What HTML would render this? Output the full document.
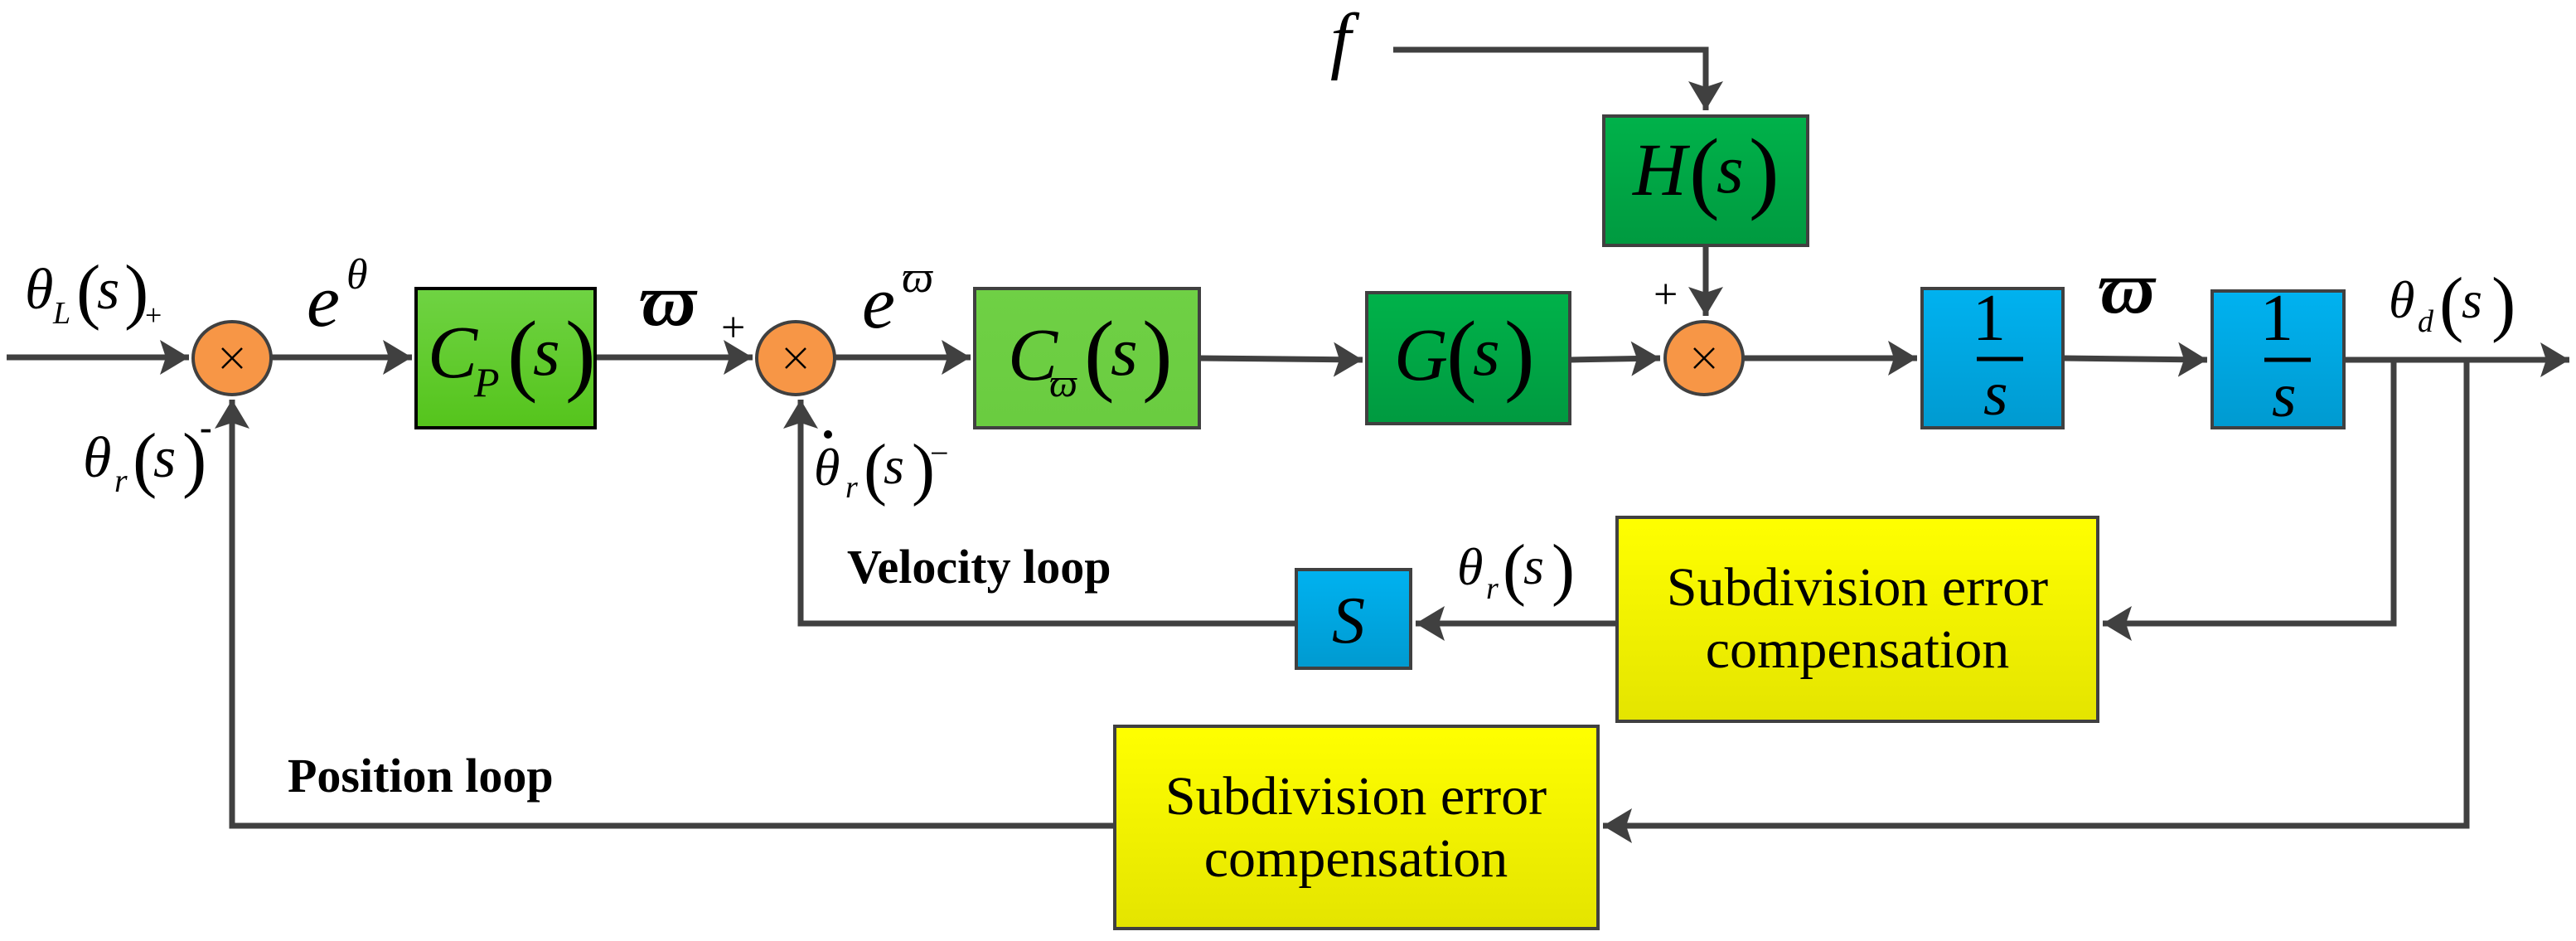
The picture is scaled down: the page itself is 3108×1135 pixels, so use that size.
<!DOCTYPE html>
<html><head><meta charset="utf-8"><style>
html,body{margin:0;padding:0;background:#fff;}
svg{display:block;}
</style></head><body>
<svg width="3108" height="1135" viewBox="0 0 3108 1135" xmlns="http://www.w3.org/2000/svg" font-family="Liberation Serif, DejaVu Serif, serif">
<defs>
<linearGradient id="gp" x1="0" y1="0" x2="0" y2="1"><stop offset="0" stop-color="#6fd343"/><stop offset="1" stop-color="#55c41c"/></linearGradient>
<linearGradient id="gw" x1="0" y1="0" x2="0" y2="1"><stop offset="0" stop-color="#6fd045"/><stop offset="1" stop-color="#6acc40"/></linearGradient>
<linearGradient id="gg" x1="0" y1="0" x2="0" y2="1"><stop offset="0" stop-color="#00b24a"/><stop offset="1" stop-color="#009a40"/></linearGradient>
<linearGradient id="gb" x1="0" y1="0" x2="0" y2="1"><stop offset="0" stop-color="#00b2f0"/><stop offset="1" stop-color="#009ad0"/></linearGradient>
<linearGradient id="gy" x1="0" y1="0" x2="0" y2="1"><stop offset="0" stop-color="#ffff00"/><stop offset="1" stop-color="#e4e400"/></linearGradient>
<marker id="ar" markerWidth="6" markerHeight="6" refX="5" refY="3" orient="auto" markerUnits="strokeWidth"><path d="M0,0 L5,3 L0,6 L1,3 Z" fill="#404040"/></marker>
</defs>
<g stroke="#404040" stroke-width="7" fill="none">
<line x1="8" y1="431" x2="228" y2="431" marker-end="url(#ar)"/>
<line x1="327" y1="431" x2="497" y2="431" marker-end="url(#ar)"/>
<line x1="718" y1="431" x2="908" y2="431" marker-end="url(#ar)"/>
<line x1="1007" y1="431" x2="1171" y2="431" marker-end="url(#ar)"/>
<line x1="1447" y1="432" x2="1644" y2="434" marker-end="url(#ar)"/>
<line x1="1894" y1="434" x2="2003" y2="432" marker-end="url(#ar)"/>
<line x1="2103" y1="432" x2="2313" y2="432" marker-end="url(#ar)"/>
<line x1="2489" y1="432" x2="2663" y2="434" marker-end="url(#ar)"/>
<line x1="2828" y1="434" x2="3100" y2="434" marker-end="url(#ar)"/>
<polyline points="1681,60 2058,60 2058,133" marker-end="url(#ar)"/>
<line x1="2058" y1="296" x2="2058" y2="381" marker-end="url(#ar)"/>
<polyline points="2888,434 2888,752 2537,752" marker-end="url(#ar)"/>
<line x1="1951" y1="752" x2="1708" y2="752" marker-end="url(#ar)"/>
<polyline points="1564,752 966,752 966,482" marker-end="url(#ar)"/>
<polyline points="2976,434 2976,996 1934,996" marker-end="url(#ar)"/>
<polyline points="1345,996 280,996 280,482" marker-end="url(#ar)"/>
</g>
<g stroke="#404040" stroke-width="4">
<ellipse cx="280" cy="432" rx="47" ry="44" fill="#f79646"/>
<ellipse cx="960" cy="432" rx="47" ry="44" fill="#f79646"/>
<ellipse cx="2056" cy="432" rx="47" ry="44" fill="#f79646"/>
<rect x="502" y="348" width="216" height="168" fill="url(#gp)" stroke="#000"/>
<rect x="1176" y="348" width="271" height="168" fill="url(#gw)"/>
<rect x="1649" y="353" width="245" height="158" fill="url(#gg)"/>
<rect x="1935" y="140" width="246" height="156" fill="url(#gg)"/>
<rect x="2319" y="348" width="170" height="168" fill="url(#gb)"/>
<rect x="2669" y="351" width="159" height="165" fill="url(#gb)"/>
<rect x="1564" y="687" width="138" height="119" fill="url(#gb)"/>
<rect x="1951" y="624" width="580" height="246" fill="url(#gy)"/>
<rect x="1345" y="876" width="583" height="244" fill="url(#gy)"/>
</g>
<g stroke="#000" stroke-width="2.5">
<line x1="268" y1="420" x2="292" y2="444"/><line x1="292" y1="420" x2="268" y2="444"/>
<line x1="948" y1="420" x2="972" y2="444"/><line x1="972" y1="420" x2="948" y2="444"/>
<line x1="2044" y1="420" x2="2068" y2="444"/><line x1="2068" y1="420" x2="2044" y2="444"/>
</g>
<g fill="#000" font-style="italic">
<text x="30" y="372" font-size="70">θ</text>
<text x="64" y="390" font-size="38">L</text>
<text x="117" y="372" font-size="70">s</text>
<text x="370" y="393" font-size="90">e</text>
<text x="418" y="348" font-size="52">θ</text>
<text x="516" y="455" font-size="90">C</text><text x="572" y="478" font-size="50">P</text>
<text x="643" y="452" font-size="84">s</text>
<text x="772" y="392" font-size="90" font-weight="bold">ϖ</text>
<text x="1040" y="395" font-size="90">e</text>
<text x="1088" y="352" font-size="54">ϖ</text>
<text x="1216" y="458" font-size="90">C</text><text x="1266" y="478" font-size="48">ϖ</text>
<text x="1340" y="452" font-size="84">s</text>
<text x="1682" y="458" font-size="90">G</text>
<text x="1777" y="452" font-size="84">s</text>
<text x="1970" y="235" font-size="90">H</text>
<text x="2071" y="232" font-size="84">s</text>
<text x="1605" y="78" font-size="90">f</text>
<text x="2393" y="500" font-size="76">s</text>
<text x="2741" y="502" font-size="76">s</text>
<text x="2532" y="377" font-size="90" font-weight="bold">ϖ</text>
<text x="2882" y="383" font-size="64">θ</text>
<text x="2917" y="400" font-size="38">d</text>
<text x="2970" y="383" font-size="64">s</text>
<text x="100" y="575" font-size="70">θ</text>
<text x="138" y="593" font-size="40">r</text>
<text x="185" y="575" font-size="70">s</text>
<text x="982" y="585" font-size="64">θ</text>
<text x="1020" y="600" font-size="38">r</text>
<text x="1066" y="583" font-size="64">s</text>
<text x="1758" y="705" font-size="64">θ</text>
<text x="1793" y="722" font-size="38">r</text>
<text x="1838" y="704" font-size="64">s</text>
<text x="1607" y="775" font-size="80">S</text>
</g>
<g fill="#000">
<text x="92" y="380" font-size="88">(</text><text x="150" y="380" font-size="88">)</text>
<text x="175" y="392" font-size="36">+</text>
<text x="612" y="463" font-size="110">(</text><text x="682" y="463" font-size="110">)</text>
<text x="870" y="412" font-size="52">+</text>
<text x="1308" y="463" font-size="110">(</text><text x="1378" y="463" font-size="110">)</text>
<text x="1745" y="463" font-size="110">(</text><text x="1815" y="463" font-size="110">)</text>
<text x="2038" y="243" font-size="110">(</text><text x="2110" y="243" font-size="110">)</text>
<text x="1995" y="372" font-size="52">+</text>
<text x="2380" y="410" font-size="80">1</text>
<text x="2727" y="410" font-size="80">1</text>
<text x="2943" y="395" font-size="88">(</text><text x="3006" y="395" font-size="88">)</text>
<text x="160" y="583" font-size="88">(</text><text x="220" y="583" font-size="88">)</text>
<text x="241" y="530" font-size="44" font-weight="bold">-</text>
<text x="1042" y="593" font-size="84">(</text><text x="1100" y="593" font-size="84">)</text>
<text x="1122" y="560" font-size="40">−</text>
<text x="1813" y="714" font-size="84">(</text><text x="1872" y="714" font-size="84">)</text>
<text x="1022" y="703" font-size="58" font-weight="bold">Velocity loop</text>
<text x="347" y="955" font-size="58" font-weight="bold">Position loop</text>
<text x="2241" y="730" font-size="66" text-anchor="middle">Subdivision error</text>
<text x="2241" y="805" font-size="66" text-anchor="middle">compensation</text>
<text x="1636" y="982" font-size="66" text-anchor="middle">Subdivision error</text>
<text x="1636" y="1057" font-size="66" text-anchor="middle">compensation</text>
</g>
<line x1="2385" y1="433" x2="2441" y2="433" stroke="#000" stroke-width="5"/>
<line x1="2732" y1="434" x2="2788" y2="434" stroke="#000" stroke-width="5"/>
<circle cx="999" cy="524" r="5" fill="#000"/>
</svg>
</body></html>
